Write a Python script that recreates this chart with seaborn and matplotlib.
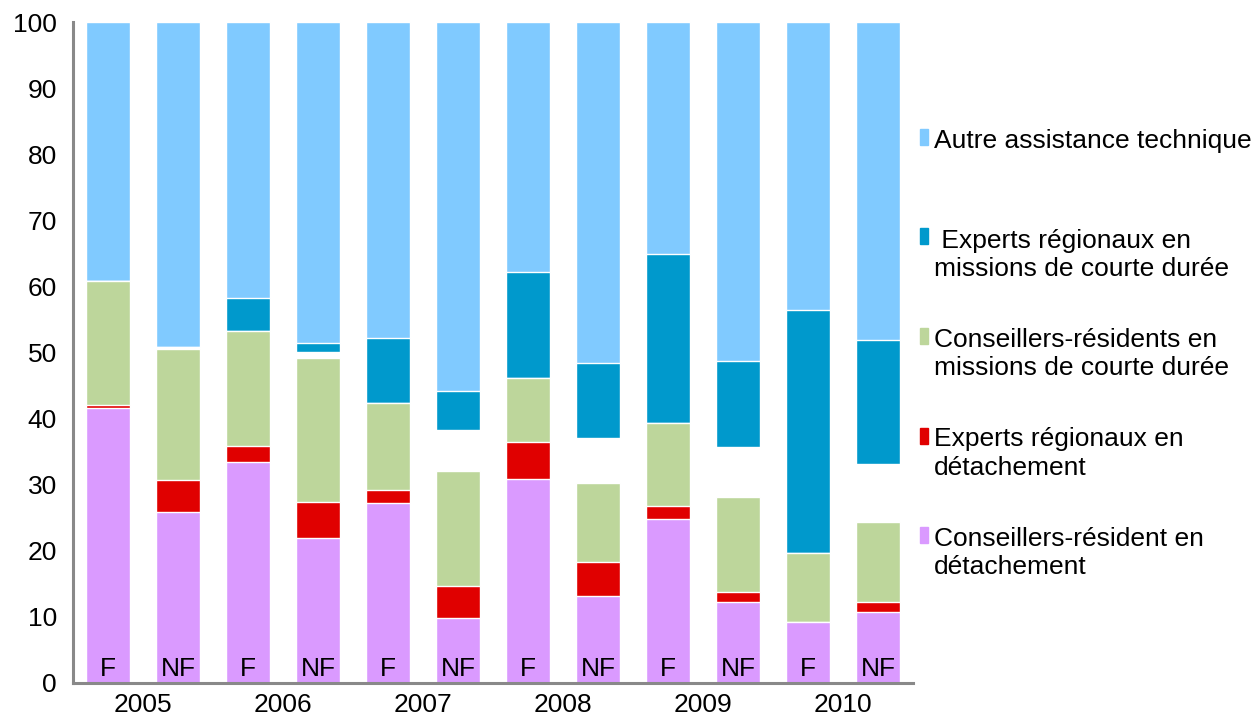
import numpy as np
import seaborn as sns
import matplotlib.pyplot as plt
from matplotlib.patches import Rectangle

years = ['2005', '2006', '2007', '2008', '2009', '2010']
kinds = ['F', 'NF']
bar_ids = [y + ' ' + k for y in years for k in kinds]

# stacked shares (%) from bottom to top
cr_detach = [41.6, 25.9, 33.5, 22.0, 27.2, 9.9, 30.8, 13.2, 24.8, 12.3, 9.3, 10.7]
er_detach = [0.4, 4.8, 2.4, 5.4, 2.0, 4.8, 5.7, 5.1, 2.0, 1.5, 0.0, 1.6]
cr_courte = [18.8, 19.8, 17.3, 21.8, 13.1, 17.3, 9.7, 11.9, 12.5, 14.3, 10.3, 12.1]
blank = [0.0, 0.3, 0.0, 0.9, 0.0, 6.3, 0.0, 6.8, 0.0, 7.6, 0.0, 8.7]
er_courte = [0.0, 0.0, 5.0, 1.3, 9.9, 5.8, 16.0, 11.4, 25.6, 13.0, 36.8, 18.8]
autre = [39.2, 49.2, 41.8, 48.6, 47.8, 55.9, 37.8, 51.6, 35.1, 51.3, 43.6, 48.1]

series = [cr_detach, er_detach, cr_courte, blank, er_courte, autre]
colors = ['#DA9AFF', '#E00000', '#BDD69B', '#FFFFFF', '#0099CC', '#80CAFF']

legend_names = ['Autre assistance technique',
                ' Experts régionaux en\nmissions de courte durée',
                'Conseillers-résidents en\nmissions de courte durée',
                'Experts régionaux en\ndétachement',
                'Conseillers-résident en\ndétachement']
legend_colors = ['#80CAFF', '#0099CC', '#BDD69B', '#E00000', '#DA9AFF']

sns.set_style('white')
plt.rcParams['font.family'] = ['Liberation Sans', 'DejaVu Sans']
plt.rcParams['text.color'] = 'black'
plt.rcParams['xtick.labelcolor'] = 'black'
plt.rcParams['ytick.labelcolor'] = 'black'
fs = 19
grey = '#898989'

fig = plt.figure(figsize=(12.58, 7.19), dpi=100)
ax = fig.add_axes([73 / 1258, 1 - 683 / 719, 840 / 1258, 661 / 719])

cum = np.cumsum(np.array(series), axis=0)
for i in range(len(series) - 1, -1, -1):
    sns.barplot(x=bar_ids, y=cum[i], color=colors[i], saturation=1,
                width=0.63, order=bar_ids, ax=ax)

for i, b in enumerate(bar_ids):
    ax.text(i, 1.0, b.split(' ')[1], ha='center', va='baseline', fontsize=fs)

ax.set_xlim(-0.5, 11.5)
ax.set_ylim(0, 100)
ax.set_yticks(range(0, 101, 10))
ax.set_xticks(np.arange(-0.5, 12, 2))
ax.set_xticklabels([])
ax.set_xticks(np.arange(0.5, 12, 2), minor=True)
ax.set_xticklabels(years, minor=True, fontsize=fs)
ax.tick_params(axis='x', which='major', direction='inout', length=14,
               width=2.2, color=grey)
ax.tick_params(axis='x', which='minor', length=0, pad=7)
ax.tick_params(axis='y', direction='out', length=6.5, width=2.2, color=grey,
               labelsize=fs, pad=5)
ax.set_xlabel('')
ax.set_ylabel('')
for s in ['top', 'right']:
    ax.spines[s].set_visible(False)
for s in ['left', 'bottom']:
    ax.spines[s].set_color(grey)
    ax.spines[s].set_linewidth(2.2)

# legend drawn by hand so the swatch sits on the first text line
for i, (name, c) in enumerate(zip(legend_names, legend_colors)):
    base = 149 + 99.5 * i
    fig.patches.append(Rectangle((920 / 1258, 1 - (base - 4) / 719), 8 / 1258,
                                 16 / 719, color=c, transform=fig.transFigure))
    fig.text(934 / 1258, 1 - (base - 20) / 719, name, ha='left', va='top',
             fontsize=fs, linespacing=1.22)

plt.savefig('out.png', dpi=100)
